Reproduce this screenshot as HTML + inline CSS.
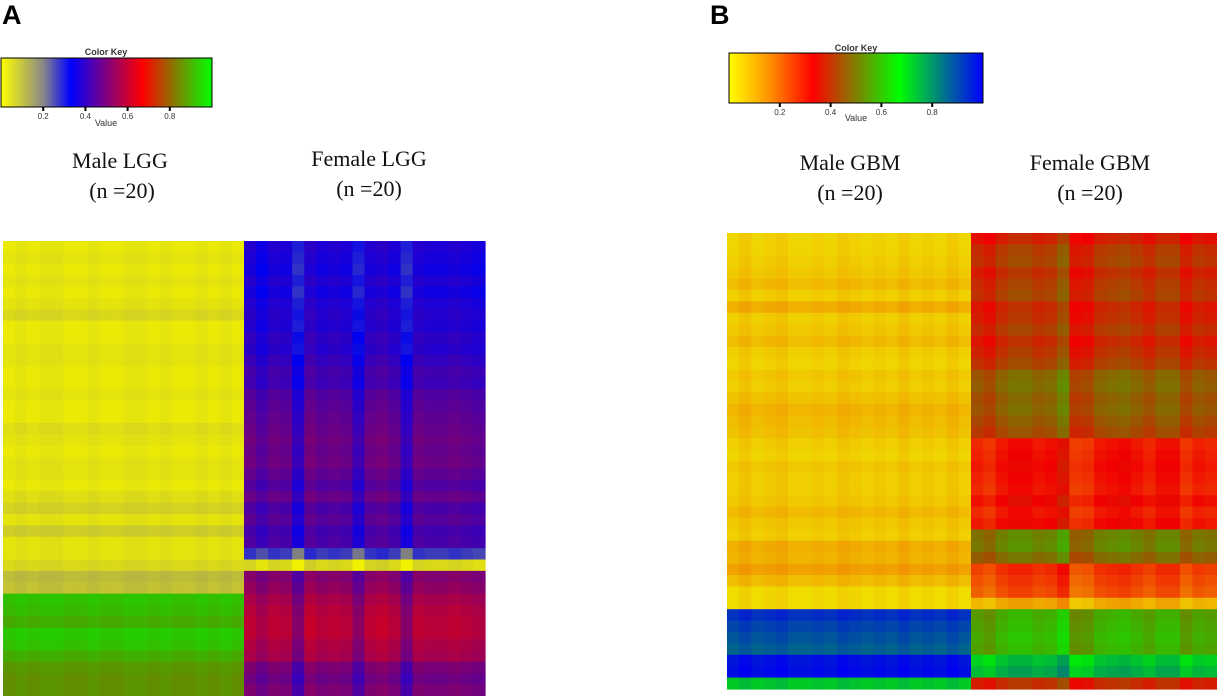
<!DOCTYPE html>
<html><head><meta charset="utf-8">
<style>
html,body{margin:0;padding:0;background:#fff;}
body{width:1217px;height:696px;overflow:hidden;position:relative;}
svg{position:absolute;left:0;top:0;}
</style></head>
<body>
<svg id="fig" width="1217" height="696" xmlns="http://www.w3.org/2000/svg">
<defs>
<linearGradient id="gA" x1="0" x2="1" y1="0" y2="0">
<stop offset="0" stop-color="#ffff00"/><stop offset="0.2" stop-color="#888888"/><stop offset="0.33" stop-color="#0000ff"/><stop offset="0.5" stop-color="#800080"/><stop offset="0.67" stop-color="#ff0000"/><stop offset="0.83" stop-color="#808000"/><stop offset="1" stop-color="#00ff00"/>
</linearGradient>
<linearGradient id="gB" x1="0" x2="1" y1="0" y2="0">
<stop offset="0" stop-color="#ffff00"/><stop offset="0.15" stop-color="#ff9900"/><stop offset="0.33" stop-color="#ff0000"/><stop offset="0.5" stop-color="#808000"/><stop offset="0.67" stop-color="#00ff00"/><stop offset="0.83" stop-color="#008080"/><stop offset="1" stop-color="#0000ff"/>
</linearGradient>
</defs>
<text x="2" y="24" font-family="Liberation Sans, sans-serif" font-weight="bold" font-size="27">A</text>
<text x="710" y="24" font-family="Liberation Sans, sans-serif" font-weight="bold" font-size="27">B</text>
<g>
<text x="106" y="55" text-anchor="middle" font-family="Liberation Sans, sans-serif" font-weight="bold" font-size="9" fill="#333">Color Key</text>
<rect x="1" y="58" width="211" height="49" fill="url(#gA)" stroke="#000" stroke-width="1"/>
<g id="ticksA"></g>
<text x="106" y="126" text-anchor="middle" font-family="Liberation Sans, sans-serif" font-size="9" fill="#333">Value</text>
</g>
<g>
<text x="856" y="51" text-anchor="middle" font-family="Liberation Sans, sans-serif" font-weight="bold" font-size="9" fill="#333">Color Key</text>
<rect x="729" y="53" width="254" height="50" fill="url(#gB)" stroke="#000" stroke-width="1"/>
<g id="ticksB"></g>
<text x="856" y="121" text-anchor="middle" font-family="Liberation Sans, sans-serif" font-size="9" fill="#333">Value</text>
</g>
<g font-family="Liberation Serif, serif" font-size="22" text-anchor="middle" fill="#111">
<text x="120" y="168">Male LGG</text>
<text x="122" y="198">(n =20)</text>
<text x="369" y="166">Female LGG</text>
<text x="369" y="196">(n =20)</text>
<text x="850" y="170">Male GBM</text>
<text x="850" y="200">(n =20)</text>
<text x="1090" y="170">Female GBM</text>
<text x="1090" y="200">(n =20)</text>
</g>
<g id="heatA"></g>
<g id="heatB"></g>
</svg>
<script>
const keyTicks = [0.2, 0.4, 0.6, 0.8];
// Panel A (LGG) row values per group (40 rows, top to bottom)
const aMaleRows = [0.01,0.02,0.01,0.02,0.01,0.02,0.04,0.01,0.01,0.02,0.02,0.01,0.01,0.02,0.01,0.01,0.03,0.02,0.01,0.02,0.02,0.01,0.03,0.05,0.02,0.06,0.02,0.02,0.04,0.09,0.08,0.93,0.92,0.9,0.94,0.93,0.9,0.87,0.86,0.86];
const aFemaleRows = [0.36,0.35,0.34,0.36,0.34,0.36,0.37,0.36,0.38,0.37,0.39,0.41,0.4,0.43,0.44,0.45,0.46,0.47,0.46,0.47,0.45,0.43,0.46,0.42,0.44,0.41,0.42,0.26,0.03,0.5,0.52,0.55,0.57,0.58,0.58,0.56,0.55,0.49,0.47,0.49];
const aMaleCols = [0,0.01,0,0.01,0.01,0,0,0.01,0,0,0.01,0.01,0,0.01,0,0,0.01,0,0.01,0];
const aFemaleCols = [0.02,-0.01,0.02,0.01,-0.06,0.03,0.01,0.02,0.01,-0.05,0.02,0.03,0.01,-0.06,0.02,0.01,0.01,0.02,0.01,0];
// Panel B (GBM)
const bMaleRows = [0.04,0.04,0.05,0.06,0.08,0.05,0.1,0.05,0.06,0.08,0.05,0.04,0.06,0.05,0.07,0.09,0.08,0.07,0.05,0.04,0.06,0.05,0.05,0.06,0.08,0.06,0.05,0.1,0.09,0.12,0.08,0.03,0.03,0.93,0.9,0.88,0.86,0.97,0.98,0.72];
const bFemaleRows = [0.36,0.4,0.41,0.38,0.4,0.41,0.37,0.38,0.4,0.37,0.39,0.41,0.46,0.47,0.45,0.46,0.44,0.42,0.29,0.3,0.31,0.3,0.29,0.32,0.29,0.31,0.5,0.51,0.47,0.26,0.24,0.22,0.1,0.56,0.57,0.58,0.57,0.72,0.75,0.38];
const bMaleCols = [0,0.02,0,0.01,0.02,0,0,0.01,0,0.02,0.01,0,0.01,0,0.02,0,0.01,0,0.02,0];
const bFemaleCols = [-0.01,-0.03,0.01,0.03,0.03,0.01,0.02,0.06,-0.04,-0.03,0.01,0.02,0.03,0.01,-0.01,0.02,0.02,-0.03,0,-0.01];

const stopsA = [[0,[255,255,0]],[0.2,[136,136,136]],[0.33,[0,0,255]],[0.5,[128,0,128]],[0.67,[255,0,0]],[0.83,[128,128,0]],[1,[0,255,0]]];
const stopsB = [[0,[255,255,0]],[0.15,[255,153,0]],[0.33,[255,0,0]],[0.5,[128,128,0]],[0.67,[0,255,0]],[0.83,[0,128,128]],[1,[0,0,255]]];
function colorOf(v, stops){
  v = Math.max(0, Math.min(1, v));
  for (let i=0;i<stops.length-1;i++){
    const [a,ca]=stops[i],[b,cb]=stops[i+1];
    if (v<=b){const t=(v-a)/(b-a);return 'rgb('+ca.map((c,k)=>Math.round((c+(cb[k]-c)*t)*0.94)).join(',')+')';}
  }
  const c=stops[stops.length-1][1];return 'rgb('+c.join(',')+')';
}
const NS='http://www.w3.org/2000/svg';
function drawTicks(gid, x0, x1, yTop){
  const g=document.getElementById(gid);
  keyTicks.forEach(t=>{
    const x=x0+(x1-x0)*t;
    const l=document.createElementNS(NS,'rect');
    l.setAttribute('x',x-1);l.setAttribute('y',yTop);l.setAttribute('width',2);l.setAttribute('height',4);l.setAttribute('fill','#000');
    
    
    g.appendChild(l);
    const tx=document.createElementNS(NS,'text');
    tx.setAttribute('x',x);tx.setAttribute('y',yTop+12);tx.setAttribute('text-anchor','middle');
    tx.setAttribute('font-family','Liberation Sans, sans-serif');tx.setAttribute('font-size','8');tx.setAttribute('fill','#333');
    tx.textContent=t.toFixed(1);
    
    
    g.appendChild(tx);
  });
}
drawTicks('ticksA',1,212,107);
drawTicks('ticksB',729,983,103);

function drawHeat(gid, x0, xs, x1, y0, y1, groups, stops){
  const g=document.getElementById(gid);
  const bounds=[[x0,xs],[xs,x1]];
  groups.forEach((grp,gi)=>{
    const [rows,cols]=grp;
    const [gx0,gx1]=bounds[gi];
    const cw=(gx1-gx0)/cols.length, rh=(y1-y0)/rows.length;
    rows.forEach((rv,ri)=>{
      cols.forEach((cv,ci)=>{
        const r=document.createElementNS(NS,'rect');
        r.setAttribute('x',(gx0+ci*cw).toFixed(2));
        r.setAttribute('y',(y0+ri*rh).toFixed(2));
        r.setAttribute('width',(cw+0.6).toFixed(2));
        r.setAttribute('height',(rh+0.6).toFixed(2));
        r.setAttribute('fill',colorOf(rv+cv,stops));
        
        
        g.appendChild(r);
      });
    });
  });
}
drawHeat('heatA',3,244,485,241,696,[[aMaleRows,aMaleCols],[aFemaleRows,aFemaleCols]],stopsA);
drawHeat('heatB',727,971,1217,233,689,[[bMaleRows,bMaleCols],[bFemaleRows,bFemaleCols]],stopsB);
</script>
</body></html>
